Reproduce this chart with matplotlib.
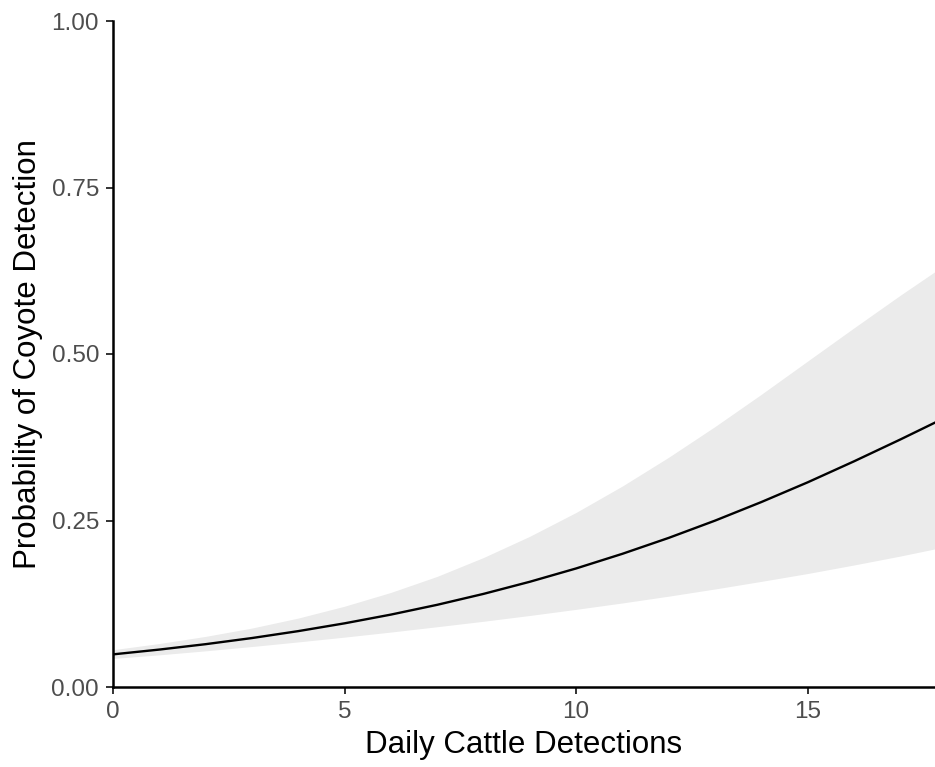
"""Predicted probability of coyote detection vs daily cattle detections."""

import matplotlib

matplotlib.use("Agg")

import matplotlib.pyplot as plt

# values (fit and 95% ribbon)
cattle = [0, 1, 2, 3, 4, 5, 6, 7, 8, 9, 10, 11, 12, 13, 14, 15, 16, 17, 17.75]
prob_fit = [0.0490, 0.0562, 0.0643, 0.0735, 0.0839, 0.0956, 0.1087, 0.1234, 0.1398, 0.1580,
            0.1780, 0.2000, 0.2239, 0.2498, 0.2777, 0.3073, 0.3388, 0.3716, 0.3970]
prob_lower = [0.0429, 0.0483, 0.0543, 0.0608, 0.0677, 0.0749, 0.0825, 0.0905, 0.0987, 0.1074,
              0.1166, 0.1262, 0.1364, 0.1472, 0.1586, 0.1704, 0.1832, 0.1966, 0.2074]
prob_upper = [0.0560, 0.0653, 0.0760, 0.0885, 0.1035, 0.1213, 0.1420, 0.1661, 0.1944, 0.2263,
              0.2621, 0.3018, 0.3450, 0.3911, 0.4395, 0.4894, 0.5392, 0.5882, 0.6237]

x_ticks = [0, 5, 10, 15]
y_ticks = [0.0, 0.25, 0.5, 0.75, 1.0]
y_ticklabels = ["0.00", "0.25", "0.50", "0.75", "1.00"]

plt.rcParams["font.family"] = ["Liberation Sans", "DejaVu Sans"]

fig = plt.figure(figsize=(9.35, 7.67), dpi=100)
ax = fig.add_axes([113 / 935, 1 - 687 / 767, 1 - 113 / 935, 666 / 767])

ax.fill_between(cattle, prob_lower, prob_upper, color="#EBEBEB", linewidth=0, zorder=1)
ax.plot(cattle, prob_fit, color="black", linewidth=1.7, zorder=2)

ax.set_xlim(0, 17.75)
ax.set_ylim(0, 1)
ax.set_xticks(x_ticks)
ax.set_yticks(y_ticks)
ax.set_yticklabels(y_ticklabels)

for side in ("top", "right"):
    ax.spines[side].set_visible(False)
for side in ("left", "bottom"):
    ax.spines[side].set_linewidth(1.8)
    ax.spines[side].set_color("black")

ax.tick_params(axis="both", length=5, width=1.4, color="#333333",
               labelsize=17.5, labelcolor="#4D4D4D", pad=5)

ax.set_xlabel("Daily Cattle Detections", fontsize=22.5, color="black", labelpad=5)
ax.set_ylabel("Probability of Coyote Detection", fontsize=22.5, color="black", labelpad=6)

fig.savefig("out.png", dpi=100)
plt.close(fig)
